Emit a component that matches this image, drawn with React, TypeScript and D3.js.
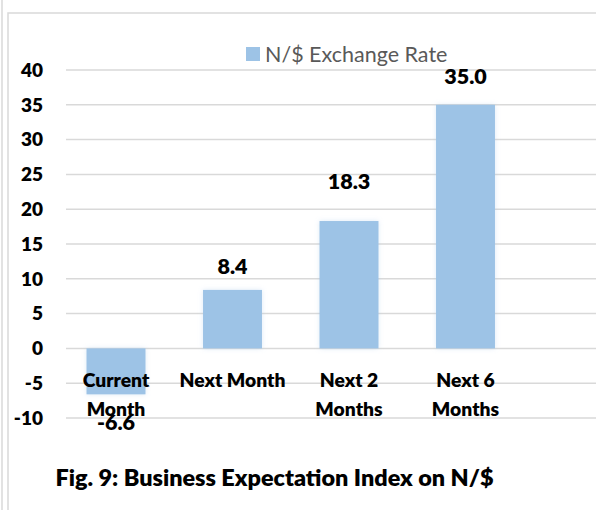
import React from "react";
import * as d3 from "d3";

const categories: string[][] = [["Current", "Month"], ["Next Month"], ["Next 2", "Months"], ["Next 6", "Months"]];
const values: number[] = [-6.6, 8.4, 18.3, 35.0];
const valueLabels: string[] = ["-6.6", "8.4", "18.3", "35.0"];
const labelOffsets: number[] = [-28, 24, 40, 29];
const yTicks: number[] = [40, 35, 30, 25, 20, 15, 10, 5, 0, -5, -10];
const seriesName = "N/$ Exchange Rate";
const title = "Fig. 9: Business Expectation Index on N/$";

const W = 596, H = 510;
const FONT = "Lato, 'Open Sans', sans-serif";
const BAR = "#9DC3E6";
const GRID = "#d9d9d9";

export default function App() {
  const y = d3.scaleLinear().domain([-10, 40]).range([418, 70]);
  const x = d3.scaleBand<number>().domain(d3.range(categories.length)).range([57.75, 523.75]).paddingInner(0.494).paddingOuter(0.247);
  return (
    <svg width={W} height={H} style={{ position: "absolute", left: 0, top: 0, background: "#fff" }}>
      <defs>
        <filter id="glow" x="-20%" y="-20%" width="140%" height="140%">
          <feGaussianBlur in="SourceAlpha" stdDeviation="2.5" result="b" />
          <feFlood floodColor="#9DC3E6" floodOpacity="0.35" />
          <feComposite in2="b" operator="in" />
          <feMerge>
            <feMergeNode />
            <feMergeNode in="SourceGraphic" />
          </feMerge>
        </filter>
      </defs>
      <line x1={2} x2={2} y1={0} y2={H} stroke={GRID} strokeWidth={1.5} />
      <rect x={8} y={13} width={700} height={700} fill="none" stroke={GRID} strokeWidth={1.5} />
      {yTicks.map((t) => (
        <g key={t}>
          <line x1={66} x2={W} y1={y(t)} y2={y(t)} stroke={GRID} strokeWidth={1.5} />
          <text x={43} y={y(t)} dy="0.36em" textAnchor="end" fontFamily={FONT} fontWeight={800} fontSize={19} fill="#000">{t}</text>
        </g>
      ))}
      {values.map((v, i) => (
        <rect key={i} x={x(i)} width={x.bandwidth()} y={y(Math.max(0, v))} height={Math.abs(y(v) - y(0))} fill={BAR} filter="url(#glow)" />
      ))}
      {categories.map((lines, i) => (
        <text key={i} textAnchor="middle" fontFamily={FONT} fontWeight={800} fontSize={19.3} fill="#000">
          {lines.map((l, j) => (
            <tspan key={j} x={(x(i) as number) + x.bandwidth() / 2} y={380 + j * 29} dy="0.36em">{l}</tspan>
          ))}
        </text>
      ))}
      {values.map((v, i) => (
        <text key={i} x={(x(i) as number) + x.bandwidth() / 2} y={y(v) - labelOffsets[i]} dy="0.36em" textAnchor="middle" fontFamily={FONT} fontWeight={800} fontSize={21.5} fill="#000">{valueLabels[i]}</text>
      ))}
      <rect x={246} y={47} width={14} height={14} fill={BAR} />
      <text x={265} y={54} dy="0.36em" fontFamily={FONT} fontSize={21.5} fill="#595959">{seriesName}</text>
      <text x={274.5} y={478} dy="0.36em" textAnchor="middle" fontFamily={FONT} fontWeight={800} fontSize={23.4} fill="#000">{title}</text>
    </svg>
  );
}
